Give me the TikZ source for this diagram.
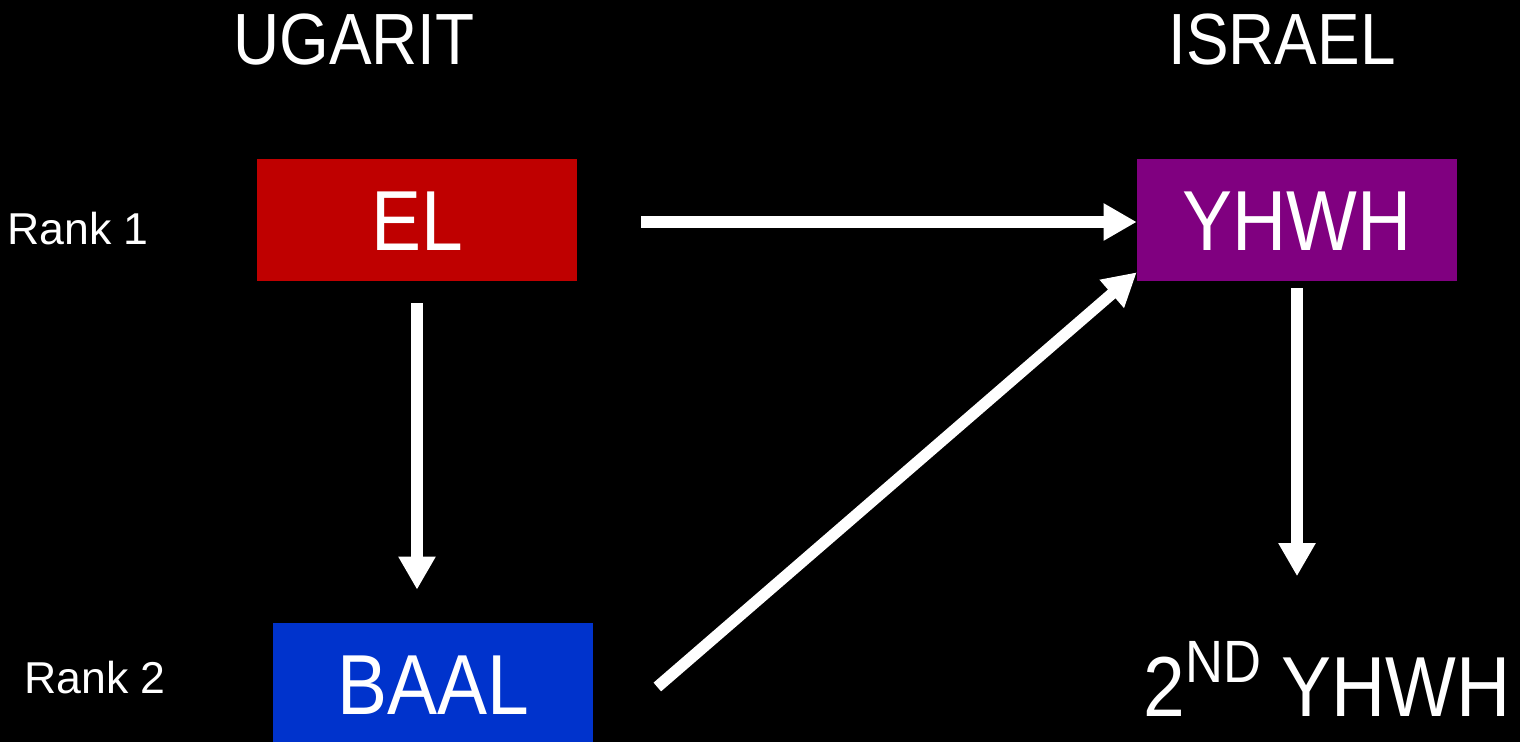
\documentclass[tikz,border=0pt]{standalone}
\usepackage{fontspec}
\setmainfont{Liberation Sans}
\newfontfamily\slidefont[FakeStretch=0.88]{Liberation Sans}
\definecolor{ElRed}{RGB}{191,0,0}
\definecolor{YhwhPurple}{RGB}{128,0,128}
\definecolor{BaalBlue}{RGB}{0,51,204}
\usetikzlibrary{arrows.meta}

\begin{document}
\begin{tikzpicture}[x=0.02cm, y=-0.02cm,
	god/.style={minimum width=6.4cm, minimum height=2.44cm, inner sep=0pt, text=white, font=\slidefont\fontsize{48.5}{50}\selectfont, text height=34.7pt, text depth=0pt},
	heading/.style={anchor=base, inner sep=0pt, text=white, font=\slidefont\fontsize{41.3}{48}\selectfont},
	rank/.style={anchor=base west, inner sep=0pt, text=white, font=\fontsize{25.4}{30}\selectfont},
	flow/.style={draw=white, line width=0.23cm, -{Triangle[length=0.66cm, width=0.7cm]}}]
	\fill[black] (0,0) rectangle (1520,742);
	\useasboundingbox (0,0) rectangle (1520,742);
	% columns
	\node (ugarit) at (354,65) [heading] {UGARIT};
	\node (israel) at (1282,65) [heading] {ISRAEL};
	\node (rank1) at (7,245) [rank] {Rank 1};
	\node (rank2) at (24,693) [rank] {Rank 2};
	% gods
	\node (el) at (417,220) [god, fill=ElRed] {EL};
	\node (yhwh) at (1297,220) [god, fill=YhwhPurple] {YHWH};
	\node (baal) at (433,684) [god, fill=BaalBlue] {BAAL};
	\node (second) at (1143,716) [anchor=base west, inner sep=0pt, text=white, font=\slidefont\fontsize{48.5}{50}\selectfont] {2\raisebox{19pt}{\fontsize{34}{36}\selectfont ND} YHWH};
	% arrows
	\draw[flow, shorten <=1.28cm] ([yshift=-0.04cm]el.east) -- ([yshift=-0.04cm]yhwh.west);
	\draw[flow, shorten <=0.44cm, shorten >=0.66cm] (el.south) -- (el.south |- baal.north);
	\draw[flow, shorten <=0.14cm, shorten >=1.3cm] (yhwh.south) -- (yhwh.south |- second.north);
	\draw[flow] ([xshift=1.28cm, yshift=-0.06cm]baal.east) -- ([yshift=0.18cm]yhwh.south west);
\end{tikzpicture}
\end{document}
